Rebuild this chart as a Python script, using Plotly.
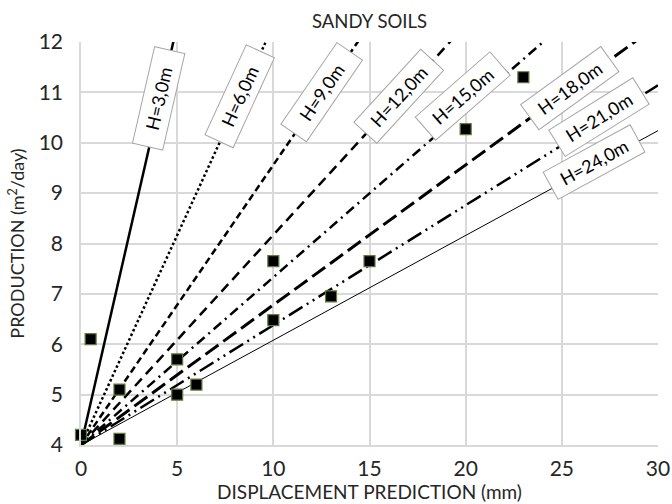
import math
import plotly.graph_objects as go

# ---- data ----
heights = [3, 6, 9, 12, 15, 18, 21, 24]
labels = ["H=3,0m", "H=6,0m", "H=9,0m", "H=12,0m", "H=15,0m", "H=18,0m", "H=21,0m", "H=24,0m"]
slopes = [1.667, 0.833, 0.556, 0.417, 0.333, 0.278, 0.238, 0.208]
y0 = 4.0

pts_x = [0, 0.5, 2, 2, 5, 5, 6, 10, 10, 13, 15, 20, 23]
pts_y = [4.2, 6.1, 5.1, 4.12, 5.7, 5.0, 5.2, 7.65, 6.48, 6.95, 7.65, 10.27, 11.3]

label_x = [4.06, 8.27, 12.53, 16.54, 19.86, 25.43, 26.94, 26.68]
label_y = [10.88, 10.92, 11.0, 10.92, 10.92, 11.08, 10.51, 9.62]

# ---- styles ----
dashes = ["solid", "2.5px,2.5px", "7px,4px", "10px,6px", "10px,5px,2px,5px",
          "16px,6px", "16px,5px,2px,5px,2px,5px", "solid"]
widths = [2.5, 2.5, 2.5, 2.5, 2.5, 3, 2.5, 1]

W, H = 672, 504
ml, mr, mt, mb = 81, 14, 42, 59
xr = [0, 30]
yr = [4, 12]
xs = (W - ml - mr) / (xr[1] - xr[0])
ys = (H - mt - mb) / (yr[1] - yr[0])

FONT = "Lato"
TXT = "#262626"
fig = go.Figure()

for h, s, d, w in zip(heights, slopes, dashes, widths):
    fig.add_trace(go.Scatter(
        x=[xr[0], xr[1]], y=[y0, y0 + s * (xr[1] - xr[0])],
        mode="lines", line=dict(color="black", width=w, dash=d),
        showlegend=False, hoverinfo="skip"))

fig.add_trace(go.Scatter(
    x=pts_x, y=pts_y, mode="markers",
    marker=dict(symbol="square", size=11, color="black",
                line=dict(color="#5e7d3a", width=1.2)),
    cliponaxis=False, showlegend=False))

for lab, s, lx, ly in zip(labels, slopes, label_x, label_y):
    ang = -math.degrees(math.atan(s * ys / xs))
    fig.add_annotation(
        x=lx, y=ly, xref="x", yref="y", text=lab, showarrow=False,
        textangle=ang, font=dict(family=FONT, size=18, color="black"),
        bgcolor="white", bordercolor="#a6a6a6", borderwidth=1,
        borderpad=4, width=90, height=22)

fig.update_layout(
    width=W, height=H,
    margin=dict(l=ml, r=mr, t=mt, b=mb, autoexpand=False),
    paper_bgcolor="white", plot_bgcolor="white",
    font=dict(family=FONT, color=TXT),
    title=dict(text="SANDY SOILS", x=(ml + (W - ml - mr) / 2) / W, xanchor="center",
               y=1 - 22 / H, yanchor="middle",
               font=dict(family=FONT, size=18.5, color=TXT)),
    xaxis=dict(range=xr, tickvals=[0, 5, 10, 15, 20, 25, 30], automargin=False,
               showgrid=True, gridcolor="#d9d9d9", gridwidth=1.5,
               zeroline=False, showline=True, linecolor="#d9d9d9", linewidth=1.5,
               tickfont=dict(family=FONT, size=21, color=TXT),
               ticks="", ticklen=0, ticklabelstandoff=4,
               title=dict(text="DISPLACEMENT PREDICTION (mm)", standoff=4,
                          font=dict(family=FONT, size=19, color=TXT))),
    yaxis=dict(range=yr, tickvals=[4, 5, 6, 7, 8, 9, 10, 11, 12], automargin=False,
               showgrid=True, gridcolor="#d9d9d9", gridwidth=1.5,
               zeroline=False, showline=True, linecolor="#d9d9d9", linewidth=1.5,
               tickfont=dict(family=FONT, size=21, color=TXT),
               ticks="", ticklen=0, ticklabelstandoff=12,
               title=dict(text="PRODUCTION (m<sup>2</sup>/day)", standoff=9,
                          font=dict(family=FONT, size=18, color=TXT))),
)

fig.write_html("out.html", config={"displayModeBar": False},
               post_script="document.body.style.margin='0';document.body.style.overflow='hidden';")
